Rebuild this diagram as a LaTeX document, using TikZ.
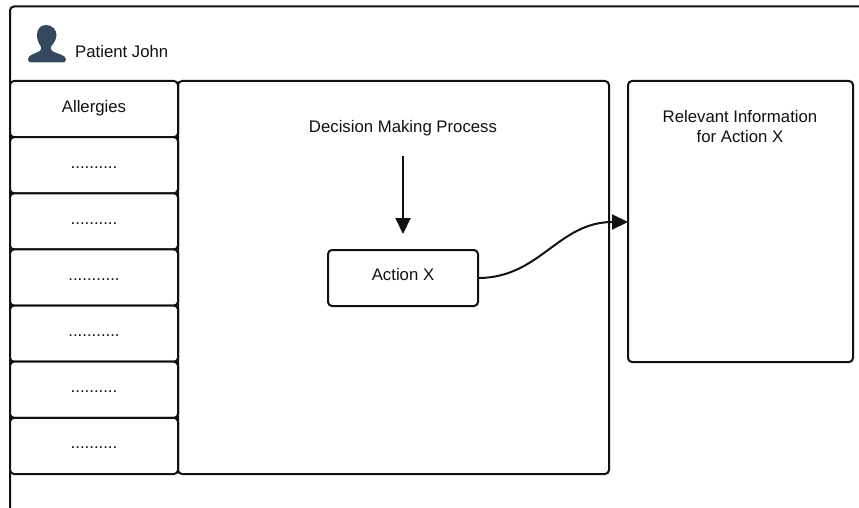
\documentclass[tikz,border=0pt]{standalone}
\usepackage{fontspec}
\setmainfont{Liberation Sans}
\usetikzlibrary{arrows.meta}
\definecolor{iconblue}{HTML}{34495E}
\definecolor{inkline}{HTML}{111111}
\newcommand{\tendots}{..........}
\newcommand{\elevendots}{...........}
\tikzset{
  every node/.style={font=\fontsize{16.75}{20}\selectfont,text=inkline},
  panel/.style={draw=inkline,line width=2pt,rounded corners=4pt,fill=white,outer sep=0pt,inner sep=0pt},
  conn/.style={draw=inkline,line width=2pt,-{Triangle[length=16pt,width=15pt]}}
}
\begin{document}
\begin{tikzpicture}[x=1pt,y=-1pt]
\useasboundingbox (0,0) rectangle (859,508);
\draw[draw=inkline,line width=2pt,rounded corners=4pt] (10,508) -- (10,6.5) -- (859,6.5);
% person icon
\fill[iconblue] (46,25)
  .. controls (39.5,25) and (37,30) .. (37,35)
  .. controls (37,40) and (39,44) .. (41,46.5)
  .. controls (41.5,49) and (41,50.5) .. (38,52)
  .. controls (34,54) and (28,55) .. (28,59.5)
  .. controls (28,62) and (30,62.5) .. (32,62.5)
  -- (62,62.5)
  .. controls (64,62.5) and (66,62) .. (66,59.5)
  .. controls (66,55) and (58,54) .. (54,52)
  .. controls (51,50.5) and (50.5,49) .. (51,46.5)
  .. controls (53,44) and (56.5,40) .. (56.5,35)
  .. controls (56.5,30) and (52.5,25) .. (46,25) -- cycle;
\node[anchor=base west,inner sep=0pt] (patient) at (75,57.5) {Patient John};
% main panels
\node[panel,minimum width=431pt,minimum height=393pt] (main) at (393.5,277.5) {};
\node[panel,minimum width=225pt,minimum height=281pt] (info) at (740.5,221.5) {};
% list
\foreach \nm/\yy/\tx in {l1/109.07/Allergies,l2/165.21/\tendots,l3/221.36/\tendots,l4/277.5/\elevendots,l5/333.64/\elevendots,l6/389.79/\tendots,l7/445.93/\tendots}{
  \node[panel,minimum width=168pt,minimum height=56.14pt] (\nm) at (94,\yy) {};
  \node[inner sep=0pt,anchor=base] (\nm t) at (94,\yy+3) {\tx};
}
\node[inner sep=0pt,align=center] (infot) at (740,126.5) {Relevant Information\\for Action X};
\node[inner sep=0pt,minimum height=60pt,outer sep=0pt] (dmp) at (403,126) {};
\node[inner sep=0pt,anchor=base] (dmpt) at (403,132) {Decision Making Process};
\node[panel,minimum width=150pt,minimum height=56pt] (action) at (403,278) {};
\node[inner sep=0pt,anchor=base] (actiont) at (403,280) {Action X};
\coordinate (infoin) at (info.west |- 0,222);
\draw[conn,shorten >=16pt] (dmp.south) -- (action.north);
\draw[conn] (action.east) .. controls +(62,0) and +(-70,0) .. (infoin);
\end{tikzpicture}
\end{document}
